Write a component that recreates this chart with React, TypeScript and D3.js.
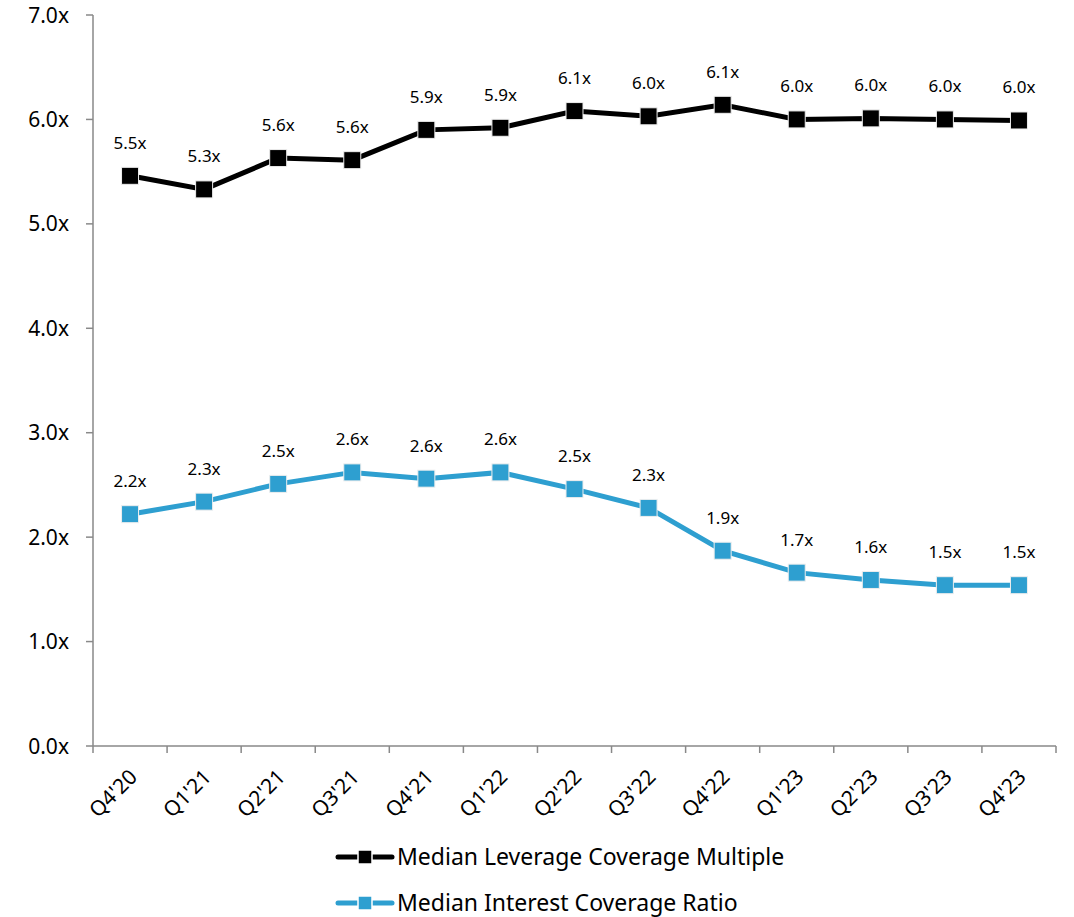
import React, { useEffect, useRef } from 'react';
import * as d3 from 'd3';

const quarters = ["Q4'20", "Q1'21", "Q2'21", "Q3'21", "Q4'21", "Q1'22", "Q2'22", "Q3'22", "Q4'22", "Q1'23", "Q2'23", "Q3'23", "Q4'23"];
const leverage = [5.46, 5.33, 5.63, 5.61, 5.9, 5.92, 6.08, 6.03, 6.14, 6.0, 6.01, 6.0, 5.99];
const interest = [2.22, 2.34, 2.51, 2.62, 2.56, 2.62, 2.46, 2.28, 1.87, 1.66, 1.59, 1.54, 1.54];
const yTicks = [0, 1, 2, 3, 4, 5, 6, 7];

const seriesList = [
  { name: 'Median Leverage Coverage Multiple', values: leverage, color: '#000000' },
  { name: 'Median Interest Coverage Ratio', values: interest, color: '#2e9fd0' },
];

const FONT = '"Noto Sans", "Open Sans", sans-serif';

export default function App() {
  const ref = useRef<SVGSVGElement>(null);

  useEffect(() => {
    const svg = d3.select(ref.current);
    svg.selectAll('*').remove();

    const left = 93, right = 1056, top = 15, bottom = 746;
    const x = d3.scaleBand().domain(quarters).range([left, right]);
    const y = d3.scaleLinear().domain([0, 7]).range([bottom, top]);
    const cx = (q: string) => (x(q) as number) + x.bandwidth() / 2;

    // y axis
    svg.append('line')
      .attr('x1', left).attr('x2', left).attr('y1', top).attr('y2', bottom)
      .attr('stroke', '#898989').attr('stroke-width', 1.5);
    const yg = svg.append('g');
    yTicks.forEach(t => {
      yg.append('line')
        .attr('x1', left - 7).attr('x2', left).attr('y1', y(t)).attr('y2', y(t))
        .attr('stroke', '#898989').attr('stroke-width', 1.5);
      yg.append('text')
        .attr('x', left - 24).attr('y', y(t)).attr('dy', '0.36em')
        .attr('text-anchor', 'end')
        .attr('font-family', FONT).attr('font-size', 21).attr('fill', '#000')
        .text(`${t.toFixed(1)}x`);
    });

    // x axis
    svg.append('line')
      .attr('x1', left).attr('x2', right).attr('y1', bottom).attr('y2', bottom)
      .attr('stroke', '#898989').attr('stroke-width', 1.5);
    d3.range(quarters.length + 1).forEach(i => {
      const xx = left + i * x.step();
      svg.append('line')
        .attr('x1', xx).attr('x2', xx).attr('y1', bottom).attr('y2', bottom + 7)
        .attr('stroke', '#898989').attr('stroke-width', 1.5);
    });
    quarters.forEach(q => {
      svg.append('text')
        .attr('transform', `translate(${cx(q) + 3},${bottom + 27}) rotate(-45)`)
        .attr('text-anchor', 'end')
        .attr('dy', '0.36em')
        .attr('font-family', FONT).attr('font-size', 21).attr('fill', '#000')
        .text(q);
    });

    const line = d3.line<number>()
      .x((d, i) => cx(quarters[i]))
      .y(d => y(d));

    seriesList.forEach(s => {
      const g = svg.append('g');
      g.append('path')
        .datum(s.values)
        .attr('d', line)
        .attr('fill', 'none')
        .attr('stroke', s.color)
        .attr('stroke-width', 5);
      g.selectAll('rect')
        .data(s.values)
        .enter()
        .append('rect')
        .attr('x', (d, i) => cx(quarters[i]) - 8.5)
        .attr('y', d => y(d) - 8.5)
        .attr('width', 17).attr('height', 17)
        .attr('fill', s.color)
        .attr('stroke', '#eeeeee').attr('stroke-width', 1);
      g.selectAll('text')
        .data(s.values)
        .enter()
        .append('text')
        .attr('x', (d, i) => cx(quarters[i]))
        .attr('y', d => y(d) - 27)
        .attr('text-anchor', 'middle')
        .attr('font-family', FONT).attr('font-size', 17).attr('fill', '#000')
        .text(d => `${d.toFixed(1)}x`);
    });

    // legend
    seriesList.forEach((s, i) => {
      const ly = 857 + i * 46;
      const lg = svg.append('g');
      lg.append('line')
        .attr('x1', 338).attr('x2', 392).attr('y1', ly).attr('y2', ly)
        .attr('stroke', s.color).attr('stroke-width', 5).attr('stroke-linecap', 'round');
      lg.append('rect')
        .attr('x', 358).attr('y', ly - 7).attr('width', 14).attr('height', 14)
        .attr('fill', s.color).attr('stroke', '#ffffff').attr('stroke-width', 1.5);
      lg.append('text')
        .attr('x', 397).attr('y', ly).attr('dy', '0.36em')
        .attr('font-family', FONT).attr('font-size', 23).attr('fill', '#000')
        .text(s.name);
    });
  }, []);

  return (
    <svg ref={ref} width={1074} height={917}
      style={{ position: 'absolute', left: 0, top: 0, background: '#fff' }} />
  );
}
